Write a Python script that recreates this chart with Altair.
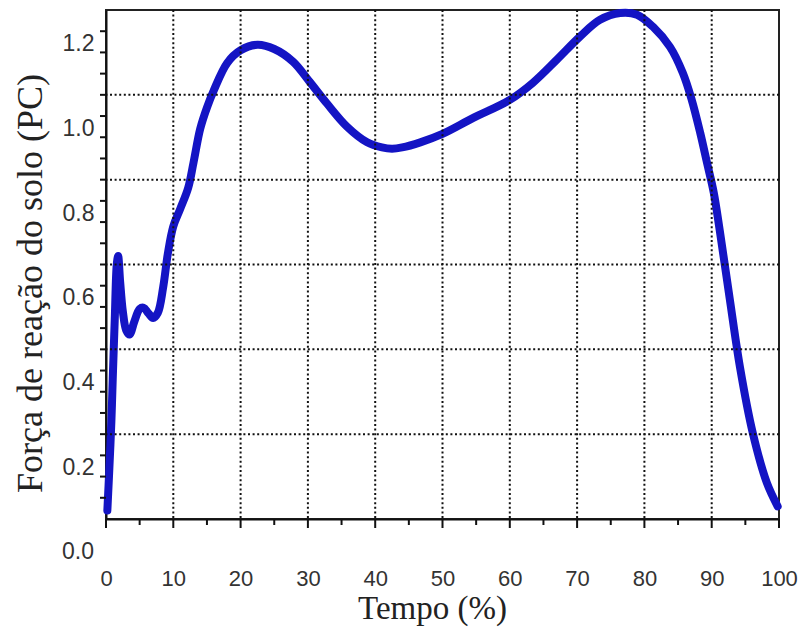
import altair as alt
import pandas as pd

# Curve (Tempo %, força PC)
tempo = [0.2, 0.5, 0.8, 1.0, 1.3, 1.6, 1.8, 2.1, 2.5, 3.0, 3.5, 4.2, 5.0, 5.6, 6.3, 7.0,
         7.7, 8.5, 9.2, 10.0, 11.0, 12.2, 13.0, 14.0, 15.0, 16.0, 18.0, 20.0, 22.5, 25.0,
         27.8, 30.3, 32.8, 35.8, 38.8, 41.0, 42.5, 44.0, 46.7, 50.0, 54.5, 60.0, 63.4, 67.0,
         70.4, 73.4, 76.4, 78.9, 81.3, 83.8, 85.7, 87.0, 88.3, 89.3, 90.3, 91.2, 92.7,
         94.2, 96.1, 98.2, 99.8]
forca = [0.12, 0.22, 0.33, 0.43, 0.57, 0.70, 0.72, 0.66, 0.59, 0.545, 0.535, 0.565,
         0.595, 0.598, 0.585, 0.574, 0.586, 0.647, 0.727, 0.79, 0.83, 0.88, 0.94, 1.02,
         1.07, 1.11, 1.175, 1.205, 1.218, 1.208, 1.178, 1.13, 1.08, 1.025, 0.988,
         0.976, 0.973, 0.976, 0.988, 1.008, 1.045, 1.088, 1.128, 1.183, 1.237, 1.277, 1.293,
         1.289, 1.26, 1.213, 1.152, 1.09, 1.01, 0.94, 0.87, 0.78, 0.617, 0.458, 0.303,
         0.185, 0.13]

x_major = [0, 10, 20, 30, 40, 50, 60, 70, 80, 90, 100]
x_minor = [5, 15, 25, 35, 45, 55, 65, 75, 85, 95]
y_ticks = [round(0.15 + 0.05 * i, 2) for i in range(0, 23)]
y_labels = [0.2, 0.4, 0.6, 0.8, 1.0, 1.2]
x_grid = [10, 20, 30, 40, 50, 60, 70, 80, 90]
y_grid = [0.3, 0.5, 0.7, 0.9, 1.1]
extra_label = ["0.0"]
extra_label_value = [0.0]
x_base = 0
y_base = 0.1

curve = pd.DataFrame({"Tempo": tempo, "Forca": forca})
xg = pd.DataFrame({"v": x_grid})
yg = pd.DataFrame({"v": y_grid})
xmaj = pd.DataFrame({"v": x_major, "b": [y_base] * len(x_major)})
xmin = pd.DataFrame({"v": x_minor, "b": [y_base] * len(x_minor)})
yt = pd.DataFrame({"v": y_ticks, "b": [x_base] * len(y_ticks)})
lab = pd.DataFrame({"t": extra_label, "v": extra_label_value, "x0": [x_base]})

xscale = alt.Scale(domain=[0, 100], nice=False, zero=False)
yscale = alt.Scale(domain=[0.1, 1.3], nice=False, zero=False)

x_axis = alt.Axis(
    values=x_major,
    ticks=False,
    domainColor="#111", domainWidth=2,
    grid=False,
    labelFont="Liberation Sans", labelFontSize=22, labelColor="#333",
    labelPadding=49, labelBaseline="top", labelFlush=False,
    title="Tempo (%)", titleFont="Liberation Serif", titleFontSize=33,
    titleFontWeight="normal", titleColor="#222",
    titleX=326, titleY=99, titleBaseline="alphabetic", titleAlign="center",
)
y_axis = alt.Axis(
    values=y_labels,
    format=".1f",
    ticks=False,
    domainColor="#111", domainWidth=2,
    grid=False,
    labelFont="Liberation Sans", labelFontSize=23, labelColor="#333",
    labelPadding=12, labelBaseline="alphabetic", labelOffset=-2, labelFlush=False,
    title="Força de reação do solo (PC)", titleFont="Liberation Serif", titleFontSize=36,
    titleFontWeight="normal", titleColor="#222",
    titleX=-65, titleY=273, titleBaseline="alphabetic", titleAlign="center", titleAngle=270,
)

line = alt.Chart(curve).mark_line(
    color="#1414c4", strokeWidth=8, interpolate="catmull-rom", strokeCap="round", strokeJoin="round"
).encode(
    x=alt.X("Tempo:Q", scale=xscale, axis=x_axis),
    y=alt.Y("Forca:Q", scale=yscale, axis=y_axis),
)

grid_style = dict(color="#111", strokeWidth=2, strokeDash=[2, 2.6])
vgrid = alt.Chart(xg).mark_rule(**grid_style).encode(x=alt.X("v:Q", scale=xscale))
hgrid = alt.Chart(yg).mark_rule(**grid_style).encode(y=alt.Y("v:Q", scale=yscale))

# axis tick marks (major/minor) drawn from the tick value arrays
xmaj_ticks = alt.Chart(xmaj).mark_tick(
    orient="vertical", size=9, thickness=2, color="#111", yOffset=4.5, opacity=1
).encode(x=alt.X("v:Q", scale=xscale), y=alt.Y("b:Q", scale=yscale))
xmin_ticks = alt.Chart(xmin).mark_tick(
    orient="vertical", size=6, thickness=2, color="#111", yOffset=3, opacity=1
).encode(x=alt.X("v:Q", scale=xscale), y=alt.Y("b:Q", scale=yscale))
y_tick_marks = alt.Chart(yt).mark_tick(
    orient="horizontal", size=6, thickness=2, color="#111", xOffset=-3, opacity=1
).encode(x=alt.X("b:Q", scale=xscale), y=alt.Y("v:Q", scale=yscale))

zero_label = alt.Chart(lab).mark_text(
    font="Liberation Sans", fontSize=23, color="#333", align="right",
    baseline="alphabetic", dx=-12, dy=-2,
).encode(
    x=alt.X("x0:Q", scale=xscale),
    y=alt.Y("v:Q", scale=yscale),
    text="t:N",
)

chart = alt.layer(line, vgrid, hgrid, xmaj_ticks, xmin_ticks, y_tick_marks, zero_label).properties(
    width=673, height=509,
    autosize=alt.AutoSizeParams(type="none"),
    padding={"left": 106, "top": 10, "right": 26, "bottom": 109},
    background="white",
).configure_view(stroke="#222", strokeWidth=2)

chart.save("out.html", embed_options={"renderer": "svg", "actions": False})
